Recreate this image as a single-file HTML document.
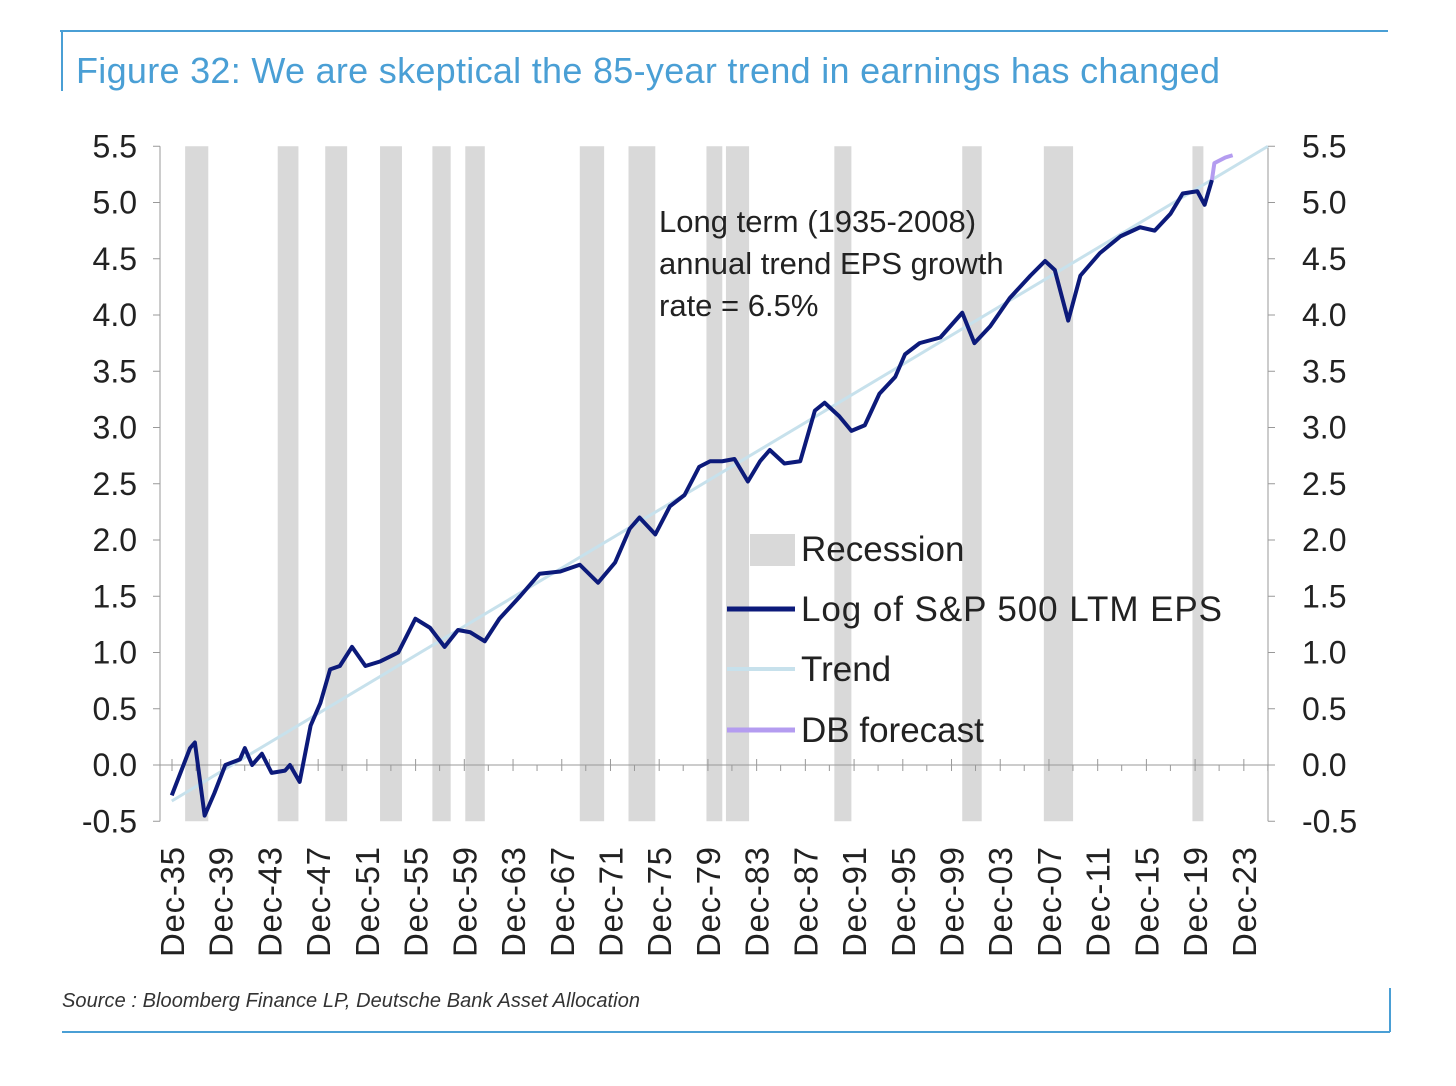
<!DOCTYPE html>
<html><head><meta charset="utf-8"><style>
html,body{margin:0;padding:0;background:#fff;}
body{width:1456px;height:1081px;overflow:hidden;font-family:"Liberation Sans",sans-serif;}
</style></head><body>
<svg id="c" width="1456" height="1081" xmlns="http://www.w3.org/2000/svg">
<line x1="60" y1="31" x2="1388" y2="31" stroke="#4a9fd5" stroke-width="2"/>
<line x1="62" y1="31" x2="62" y2="91" stroke="#4a9fd5" stroke-width="2"/>
<text x="76" y="83" font-size="36" fill="#4a9fd5" textLength="1144">Figure 32: We are skeptical the 85-year trend in earnings has changed</text>
<line x1="62" y1="1032" x2="1390" y2="1032" stroke="#4a9fd5" stroke-width="2"/>
<line x1="1390" y1="988" x2="1390" y2="1032" stroke="#4a9fd5" stroke-width="2"/>
<text x="62" y="1007" font-size="20" font-style="italic" fill="#333" textLength="578">Source : Bloomberg Finance LP, Deutsche Bank Asset Allocation</text>
<g id="plot"></g>
<text x="659" y="232" font-size="31" fill="#222"><tspan x="659">Long term (1935-2008)</tspan><tspan x="659" dy="42">annual trend EPS growth</tspan><tspan x="659" dy="42">rate = 6.5%</tspan></text>
<g>
<rect x="750" y="534" width="45" height="32" fill="#d9d9d9"/>
<text x="801" y="561" font-size="35" fill="#222">Recession</text>
<line x1="727" y1="609" x2="795" y2="609" stroke="#0c1a7a" stroke-width="5"/>
<text x="801" y="621" font-size="35" fill="#222" textLength="421">Log of S&amp;P 500 LTM EPS</text>
<line x1="727" y1="669" x2="795" y2="669" stroke="#c7e1ec" stroke-width="4"/>
<text x="801" y="681" font-size="35" fill="#222">Trend</text>
<line x1="727" y1="730" x2="795" y2="730" stroke="#b49cf0" stroke-width="5"/>
<text x="801" y="742" font-size="35" fill="#222">DB forecast</text>
</g>
</svg>
<script>
const recStart=[1937.0,1944.6,1948.5,1953.0,1957.3,1960.0,1969.4,1973.4,1979.8,1981.4,1990.3,2000.8,2007.5,2019.7];
const recEnd=[1938.9,1946.3,1950.3,1954.8,1958.8,1961.6,1971.4,1975.6,1981.1,1983.3,1991.7,2002.4,2009.9,2020.6];
const epsYears=[1935.9,1937.4,1937.8,1938.6,1939.4,1940.3,1941.5,1941.9,1942.5,1943.3,1944.1,1945.2,1945.6,1946.4,1947.3,1948.1,1948.9,1949.7,1950.7,1951.8,1953.0,1954.5,1955.9,1957.1,1958.3,1959.4,1960.4,1961.6,1962.8,1964.5,1966.1,1967.8,1969.4,1970.9,1972.3,1973.5,1974.3,1975.6,1976.8,1978.0,1979.2,1980.1,1981.1,1982.1,1983.2,1984.2,1985.0,1986.2,1987.5,1988.7,1989.5,1990.7,1991.7,1992.8,1994.0,1995.3,1996.1,1997.3,1999.0,2000.8,2001.8,2003.1,2004.7,2006.4,2007.6,2008.4,2009.5,2010.5,2012.1,2013.8,2015.4,2016.6,2017.9,2018.9,2020.1,2020.7,2021.3];
const epsValues=[-0.27,0.15,0.2,-0.45,-0.25,0.0,0.05,0.15,0.0,0.1,-0.07,-0.05,0.0,-0.15,0.35,0.55,0.85,0.88,1.05,0.88,0.92,1.0,1.3,1.22,1.05,1.2,1.18,1.1,1.3,1.5,1.7,1.72,1.78,1.62,1.8,2.1,2.2,2.05,2.3,2.4,2.65,2.7,2.7,2.72,2.52,2.7,2.8,2.68,2.7,3.15,3.22,3.1,2.97,3.02,3.3,3.45,3.65,3.75,3.8,4.02,3.75,3.9,4.15,4.35,4.48,4.4,3.95,4.35,4.55,4.7,4.78,4.75,4.9,5.08,5.1,4.98,5.2];
const fcYears=[2021.3,2021.5,2022.4,2023.0];
const fcValues=[5.2,5.35,5.4,5.42];
const trendYears=[1935.9,2025.9];
const trendValues=[-0.32,5.5];
const yTicks=[-0.5,0.0,0.5,1.0,1.5,2.0,2.5,3.0,3.5,4.0,4.5,5.0,5.5];
const xTickYears=[1935,1939,1943,1947,1951,1955,1959,1963,1967,1971,1975,1979,1983,1987,1991,1995,1999,2003,2007,2011,2015,2019,2023];
const xTickLabels=["Dec-35","Dec-39","Dec-43","Dec-47","Dec-51","Dec-55","Dec-59","Dec-63","Dec-67","Dec-71","Dec-75","Dec-79","Dec-83","Dec-87","Dec-91","Dec-95","Dec-99","Dec-03","Dec-07","Dec-11","Dec-15","Dec-19","Dec-23"];

const NS="http://www.w3.org/2000/svg";
const g=document.getElementById('plot');
const X=yr=>172+(yr-1935.92)*12.18;
const Y=v=>765-v*112.5;
function mk(tag,attrs){const e=document.createElementNS(NS,tag);for(const k in attrs)e.setAttribute(k,attrs[k]);g.appendChild(e);return e;}
recStart.forEach((s,i)=>{
  const r=mk('rect',{x:X(s),y:Y(5.5),width:X(recEnd[i])-X(s),height:Y(-0.5)-Y(5.5),fill:'#d9d9d9'});
  
  
});
let a=mk('line',{x1:160,y1:Y(5.5),x2:160,y2:Y(-0.5),stroke:'#999','stroke-width':1});


a=mk('line',{x1:1268,y1:Y(5.5),x2:1268,y2:Y(-0.5),stroke:'#999','stroke-width':1});


a=mk('line',{x1:160,y1:Y(0),x2:1268,y2:Y(0),stroke:'#999','stroke-width':1});


yTicks.forEach(v=>{
  mk('line',{x1:153,y1:Y(v),x2:160,y2:Y(v),stroke:'#999'});
  mk('line',{x1:1268,y1:Y(v),x2:1275,y2:Y(v),stroke:'#999'});
  let t=mk('text',{x:137,y:Y(v)+11,'font-size':32,fill:'#222','text-anchor':'end'});
  t.textContent=v.toFixed(1);
  
  
  t=mk('text',{x:1302,y:Y(v)+11,'font-size':32,fill:'#222'});
  t.textContent=v.toFixed(1);
  
  
});
xTickYears.forEach((yr,i)=>{
  const x=X(yr+0.92);
  mk('line',{x1:x,y1:Y(0)-6,x2:x,y2:Y(0)+6,stroke:'#999'});
  mk('line',{x1:x+24,y1:Y(0),x2:x+24,y2:Y(0)+6,stroke:'#999'});
  const t=mk('text',{x:0,y:0,'font-size':33,fill:'#222','text-anchor':'end',textLength:110,transform:`translate(${x+12},847) rotate(-90)`});
  t.textContent=xTickLabels[i];
  
  
});
function pts(xs,vs){return xs.map((x,i)=>X(x)+','+Y(vs[i])).join(' ');}
let l=mk('polyline',{points:pts(trendYears,trendValues),fill:'none',stroke:'#c7e1ec','stroke-width':3});


l=mk('polyline',{points:pts(epsYears,epsValues),fill:'none',stroke:'#0c1a7a','stroke-width':4,'stroke-linejoin':'round'});


l=mk('polyline',{points:pts(fcYears,fcValues),fill:'none',stroke:'#b49cf0','stroke-width':4,'stroke-linejoin':'round'});


</script>
</body></html>
